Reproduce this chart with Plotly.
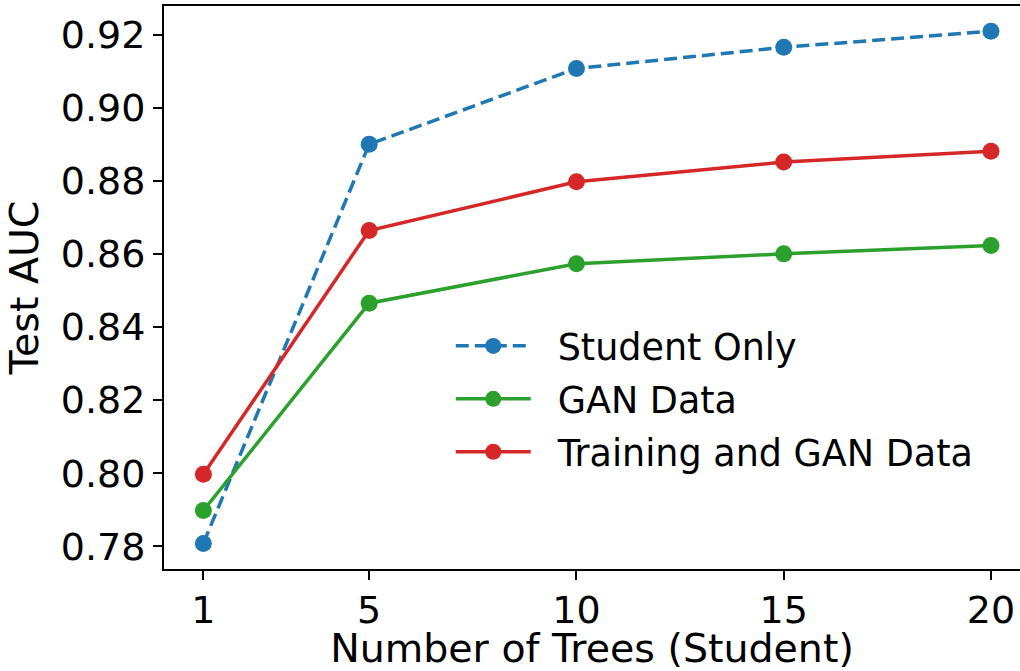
import plotly.graph_objects as go

trees = [1, 5, 10, 15, 20]
student_only = [0.7808, 0.8900, 0.9107, 0.9165, 0.9209]
gan_data = [0.7898, 0.8465, 0.8573, 0.8600, 0.8623]
train_and_gan = [0.7997, 0.8664, 0.8797, 0.8851, 0.8881]

x_ticks = [1, 5, 10, 15, 20]
y_ticks = [0.78, 0.80, 0.82, 0.84, 0.86, 0.88, 0.90, 0.92]

FONT = "DejaVu Sans"
TICK_FS = 38
TITLE_FS = 39.5
LEGEND_FS = 36.5

# Small gap between legend symbol and label text
GAP = "\u2002\u200a"

fig = go.Figure()
fig.add_trace(go.Scatter(
    x=trees, y=student_only, name=GAP + "Student Only", mode="lines+markers",
    legendgroup="a",
    line=dict(color="#1f77b4", width=3.5, dash="13px,6px"),
    marker=dict(size=17, color="#1f77b4"),
))
fig.add_trace(go.Scatter(
    x=trees, y=gan_data, name=GAP + "GAN Data", mode="lines+markers",
    legendgroup="b",
    line=dict(color="#2ca02c", width=3.5),
    marker=dict(size=17, color="#2ca02c"),
))
fig.add_trace(go.Scatter(
    x=trees, y=train_and_gan, name=GAP + "Training and GAN Data", mode="lines+markers",
    legendgroup="c",
    line=dict(color="#d62728", width=3.5),
    marker=dict(size=17, color="#d62728"),
))

fig.update_layout(
    width=1020, height=671,
    margin=dict(l=164, r=0, t=6, b=102),
    paper_bgcolor="white", plot_bgcolor="white",
    font=dict(family=FONT, size=TICK_FS, color="black"),
    legend=dict(
        x=0.335, y=0.45, xanchor="left", yanchor="top",
        bgcolor="rgba(255,255,255,0)", font=dict(size=LEGEND_FS),
        itemwidth=75, tracegroupgap=2.5,
    ),
    xaxis=dict(
        range=[0.05, 20.70], tickvals=x_ticks, ticktext=[str(t) for t in x_ticks],
        showgrid=False, zeroline=False, showline=True, linecolor="black",
        linewidth=2, mirror=True, ticks="outside", ticklen=9, tickwidth=2,
        tickcolor="black", tickfont=dict(size=TICK_FS), ticklabelstandoff=-3,
        title=dict(text="Number of Trees (Student)", font=dict(size=TITLE_FS), standoff=12),
    ),
    yaxis=dict(
        range=[0.7738, 0.9278], tickvals=y_ticks,
        ticktext=[f"{v:.2f}" for v in y_ticks],
        showgrid=False, zeroline=False, showline=True, linecolor="black",
        linewidth=2, mirror=False, ticks="outside", ticklen=9, tickwidth=2,
        tickcolor="black", tickfont=dict(size=TICK_FS),
        title=dict(text="Test AUC", font=dict(size=TITLE_FS), standoff=10),
    ),
)

fig.write_html("out.html")
